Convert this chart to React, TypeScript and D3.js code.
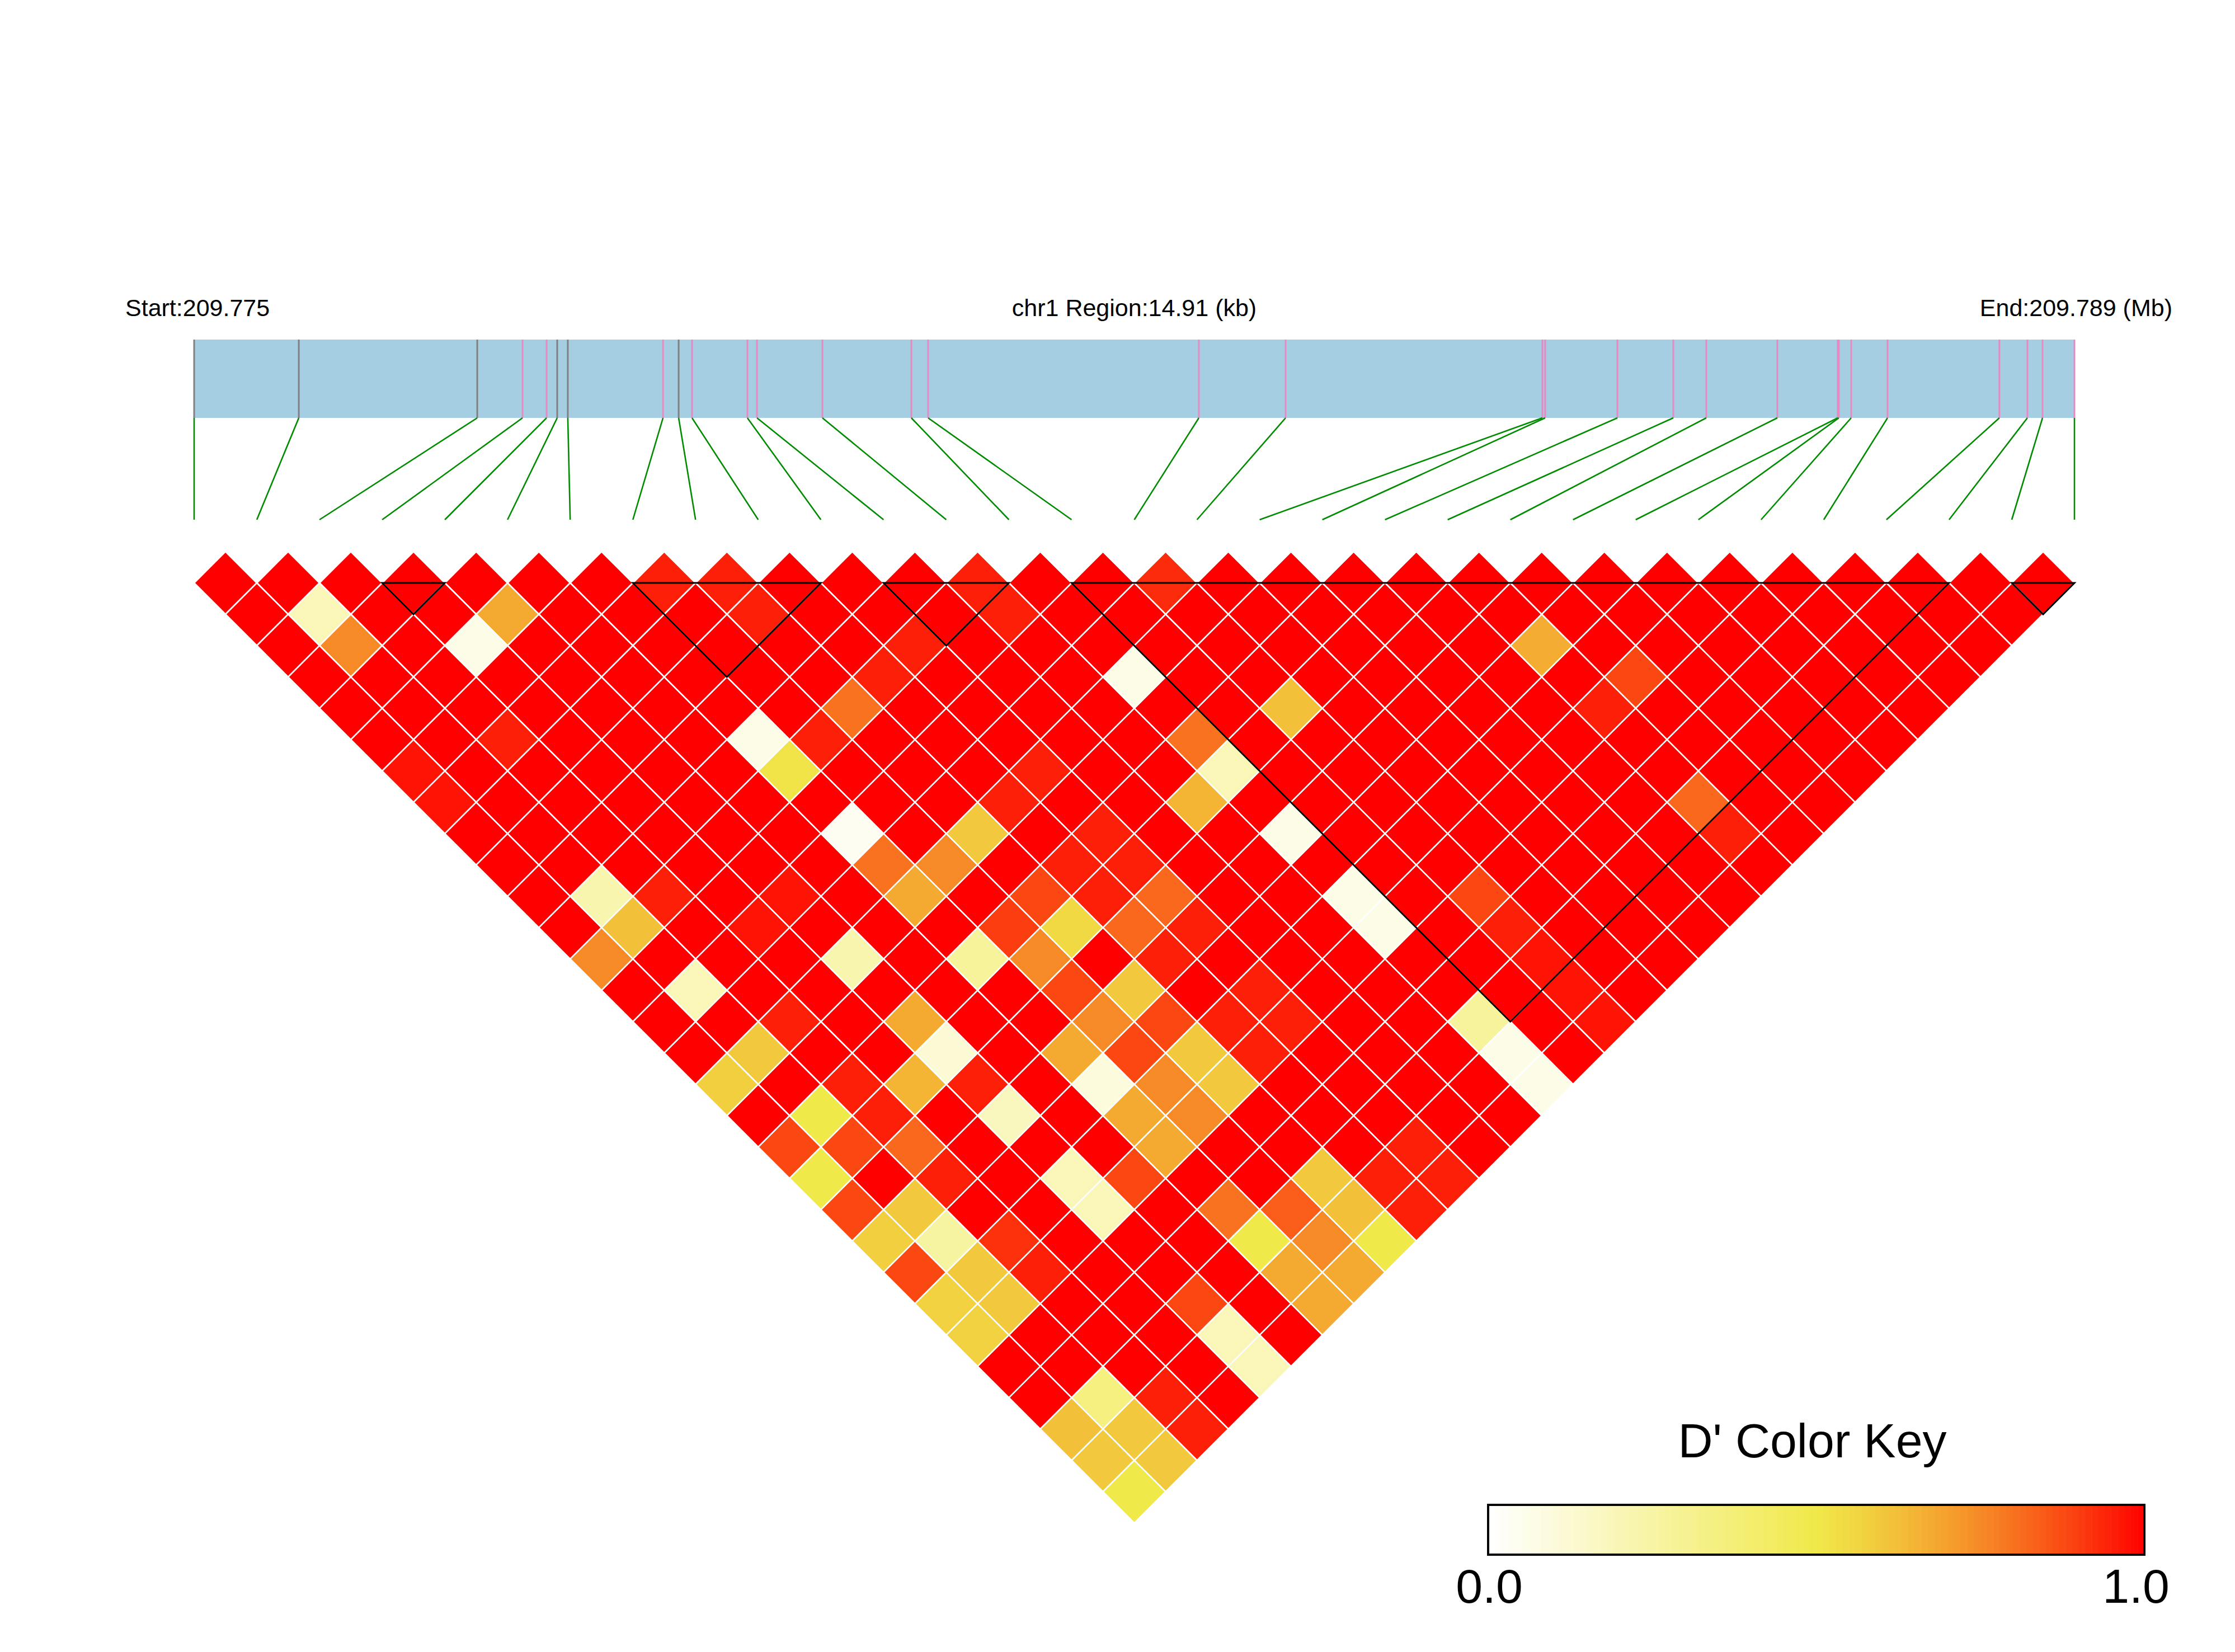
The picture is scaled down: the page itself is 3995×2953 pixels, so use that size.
import React from 'react';
import * as d3 from 'd3';

// SNP physical positions (bp), chr1
const snpPositions: number[] = [
  209774520, 209775350, 209776765, 209777124, 209777315, 209777399, 209777483,
  209778238, 209778362, 209778468, 209778907, 209778983, 209779502, 209780207,
  209780340, 209782487, 209783175, 209785211, 209785233, 209785806, 209786249,
  209786511, 209787074, 209787553, 209787562, 209787660, 209787948, 209788835,
  209789057, 209789177, 209789430,
];

// colour of the SNP tick inside the gene bar
const snpTrackType: string[] = [
  'gray', 'gray', 'gray', 'pink', 'pink', 'gray', 'gray', 'pink', 'gray', 'pink',
  'pink', 'pink', 'pink', 'pink', 'pink', 'pink', 'pink', 'pink', 'pink', 'pink',
  'pink', 'pink', 'pink', 'pink', 'pink', 'pink', 'pink', 'pink', 'pink', 'pink', 'pink',
];

const chromosome = 'chr1';

// D' values: dprimeByLag[lag-1][i] = D'(SNP i, SNP i+lag)
const dprimeByLag: number[][] = [
  [1, 1, 1, 1, 1, 1, 1, 0.95, 0.95, 1, 1, 1, 0.95, 1, 1, 0.93, 1, 1, 1, 1, 1, 1, 1, 1, 1, 1, 1, 1, 1, 1],
  [1, 0.2, 1, 1, 0.68, 1, 1, 1, 0.95, 1, 1, 1, 0.95, 1, 1, 1, 1, 1, 1, 1, 1, 1, 1, 1, 1, 1, 1, 1, 1],
  [1, 0.75, 1, 0.07, 1, 1, 1, 1, 1, 1, 0.95, 1, 1, 1, 1, 1, 1, 1, 1, 1, 0.67, 1, 1, 1, 1, 1, 1, 1],
  [1, 1, 1, 1, 1, 1, 1, 1, 1, 0.95, 1, 1, 1, 0.07, 1, 1, 1, 1, 1, 1, 1, 0.88, 1, 1, 1, 1, 1],
  [1, 1, 1, 1, 1, 1, 1, 1, 0.8, 1, 1, 1, 1, 1, 1, 0.62, 1, 1, 1, 1, 0.95, 1, 1, 1, 1, 1],
  [1, 1, 0.95, 1, 1, 1, 0.07, 0.95, 1, 1, 1, 1, 1, 0.8, 1, 1, 1, 1, 1, 1, 1, 1, 1, 1, 1],
  [0.97, 1, 1, 1, 1, 1, 0.52, 1, 1, 1, 0.95, 1, 1, 0.2, 1, 1, 1, 1, 1, 1, 1, 1, 1, 1],
  [0.97, 1, 1, 1, 1, 1, 1, 1, 1, 0.95, 1, 1, 0.65, 1, 1, 1, 1, 1, 1, 1, 0.82, 1, 1],
  [1, 1, 1, 1, 1, 1, 0.04, 1, 0.6, 1, 0.95, 1, 1, 0.07, 1, 1, 1, 1, 1, 1, 0.95, 1],
  [1, 1, 1, 1, 1, 1, 0.8, 0.75, 1, 0.95, 0.95, 1, 1, 1, 1, 1, 1, 1, 1, 1, 1],
  [1, 0.22, 0.95, 1, 0.97, 1, 0.68, 1, 0.88, 0.95, 0.82, 1, 1, 0.07, 1, 0.88, 1, 1, 1, 1],
  [1, 0.62, 1, 0.97, 1, 1, 1, 0.9, 0.55, 0.82, 0.95, 1, 1, 0.07, 1, 0.95, 1, 1, 1],
  [0.75, 1, 1, 1, 0.22, 1, 0.28, 0.75, 1, 0.95, 1, 1, 1, 1, 1, 0.97, 1, 1],
  [1, 0.2, 1, 1, 1, 1, 1, 0.88, 0.6, 1, 0.95, 1, 1, 1, 1, 0.97, 1],
  [1, 1, 0.95, 1, 0.68, 1, 1, 0.75, 0.88, 0.95, 0.95, 1, 1, 0.27, 1, 0.97],
  [1, 0.6, 1, 1, 0.12, 1, 0.68, 0.88, 0.6, 0.95, 1, 1, 1, 0.07, 1],
  [0.58, 1, 0.95, 0.65, 0.95, 1, 0.1, 0.75, 0.6, 1, 1, 1, 1, 0.07],
  [1, 0.5, 0.95, 1, 0.18, 1, 0.68, 0.75, 1, 1, 1, 1, 1],
  [0.88, 0.88, 0.82, 1, 1, 1, 0.68, 1, 1, 1, 0.95, 1],
  [0.5, 1, 0.95, 1, 0.2, 0.88, 1, 1, 0.6, 0.95, 0.95],
  [0.88, 0.6, 1, 1, 0.2, 1, 0.8, 0.84, 0.62, 0.95],
  [0.58, 0.26, 0.92, 1, 1, 1, 0.5, 0.75, 0.5],
  [0.88, 0.6, 0.95, 1, 1, 1, 0.68, 0.68],
  [0.57, 0.6, 1, 1, 0.88, 1, 0.68],
  [0.57, 1, 1, 1, 0.2, 1],
  [1, 1, 1, 1, 0.2],
  [1, 0.35, 0.95, 1],
  [0.62, 0.6, 0.95],
  [0.6, 0.6],
  [0.5],
];

// haplotype blocks as [first SNP index, last SNP index]
const ldBlocks: number[][] = [[3, 4], [7, 10], [11, 13], [14, 28], [29, 30]];

const keyTickLabels: string[] = ['0.0', '1.0'];
const keyTitle = "D' Color Key";

const FONT = "'Liberation Sans', Arial, Helvetica, sans-serif";

export default function App() {
  const W = 3995;
  const H = 2953;
  const n = snpPositions.length;
  const left = 347;
  const right = 3708;

  const xIdx = d3.scaleLinear().domain([0, n - 1]).range([left, right]);
  const xPos = d3
    .scaleLinear()
    .domain([snpPositions[0], snpPositions[n - 1]])
    .range([left, right]);
  const step = xIdx(1) - xIdx(0);
  const half = step / 2;
  const baseY = 1042;

  const barTop = 607;
  const barBottom = 747;
  const connBottom = 929;

  const yellow = '#F0E94A';
  const lowInterp = d3.interpolateRgb('#FFFFFF', yellow);
  const highInterp = d3.interpolateHsl(yellow, '#FF0000');
  const colorScale = (v: number) =>
    v <= 0.5 ? lowInterp(v / 0.5) : highInterp((v - 0.5) / 0.5);

  const cells: { key: string; d: string; fill: string }[] = [];
  dprimeByLag.forEach((row, li) => {
    const lag = li + 1;
    row.forEach((v, i) => {
      const j = i + lag;
      const cx = (xIdx(i) + xIdx(j)) / 2;
      const cy = baseY + (xIdx(j) - xIdx(i)) / 2 - half;
      const p = d3.path();
      p.moveTo(cx, cy - half);
      p.lineTo(cx + half, cy);
      p.lineTo(cx, cy + half);
      p.lineTo(cx - half, cy);
      p.closePath();
      cells.push({ key: `${i}-${j}`, d: p.toString(), fill: colorScale(v) });
    });
  });

  const blockPaths = ldBlocks.map(([a, b]) => {
    const p = d3.path();
    const xa = xIdx(a);
    const xb = xIdx(b);
    p.moveTo(xa, baseY);
    p.lineTo(xb, baseY);
    p.lineTo((xa + xb) / 2, baseY + (xb - xa) / 2);
    p.closePath();
    return p.toString();
  });

  const startMb = (snpPositions[0] / 1e6).toFixed(3);
  const endMb = (snpPositions[n - 1] / 1e6).toFixed(3);
  const regionKb = ((snpPositions[n - 1] - snpPositions[0]) / 1000).toFixed(2);

  // colour key
  const keyX0 = 2660;
  const keyX1 = 3833;
  const keyY0 = 2690;
  const keyY1 = 2779;
  const nBands = 100;
  const keyScale = d3.scaleLinear().domain([0, 1]).range([keyX0, keyX1]);
  const bands = d3.range(nBands).map((k) => ({
    x: keyScale(k / nBands),
    w: keyScale((k + 1) / nBands) - keyScale(k / nBands) + 0.6,
    fill: colorScale((k + 0.5) / nBands),
  }));

  return (
    <svg
      width={W}
      height={H}
      viewBox={`0 0 ${W} ${H}`}
      style={{ position: 'absolute', left: 0, top: 0, background: '#FFFFFF' }}
      fontFamily={FONT}
    >
      <rect x={0} y={0} width={W} height={H} fill="#FFFFFF" />

      {/* header texts */}
      <text x={224} y={565} fontSize={43} fill="#000">{`Start:${startMb}`}</text>
      <text x={(left + right) / 2} y={565} fontSize={43} fill="#000" textAnchor="middle">
        {`${chromosome} Region:${regionKb} (kb)`}
      </text>
      <text x={3883} y={565} fontSize={43} fill="#000" textAnchor="end">{`End:${endMb} (Mb)`}</text>

      {/* gene bar */}
      <rect x={left} y={barTop} width={right - left} height={barBottom - barTop} fill="#A6CEE3" />
      {snpPositions.map((p, k) => (
        <line
          key={`t${k}`}
          x1={xPos(p)}
          x2={xPos(p)}
          y1={barTop}
          y2={barBottom}
          stroke={snpTrackType[k] === 'gray' ? '#808080' : '#E78AC3'}
          strokeWidth={3}
        />
      ))}

      {/* connectors */}
      {snpPositions.map((p, k) => (
        <line
          key={`c${k}`}
          x1={xPos(p)}
          y1={barBottom}
          x2={xIdx(k)}
          y2={connBottom}
          stroke="#008B00"
          strokeWidth={2.6}
        />
      ))}

      {/* LD heatmap */}
      <g>
        {cells.map((c) => (
          <path key={c.key} d={c.d} fill={c.fill} stroke="#FFFFFF" strokeWidth={2.6} />
        ))}
      </g>

      {/* blocks */}
      <g fill="none" stroke="#000000" strokeWidth={3}>
        {blockPaths.map((d, k) => (
          <path key={`b${k}`} d={d} />
        ))}
      </g>

      {/* colour key */}
      <text x={(keyX0 + keyX1) / 2 - 7} y={2605} fontSize={86} textAnchor="middle" fill="#000">
        {keyTitle}
      </text>
      {bands.map((b, k) => (
        <rect key={`k${k}`} x={b.x} y={keyY0} width={b.w} height={keyY1 - keyY0} fill={b.fill} />
      ))}
      <rect
        x={keyX0}
        y={keyY0}
        width={keyX1 - keyX0}
        height={keyY1 - keyY0}
        fill="none"
        stroke="#000"
        strokeWidth={4}
      />
      <text x={keyX0 + 2} y={2865} fontSize={86} textAnchor="middle" fill="#000">
        {keyTickLabels[0]}
      </text>
      <text x={keyX1 - 15} y={2865} fontSize={86} textAnchor="middle" fill="#000">
        {keyTickLabels[1]}
      </text>
    </svg>
  );
}
